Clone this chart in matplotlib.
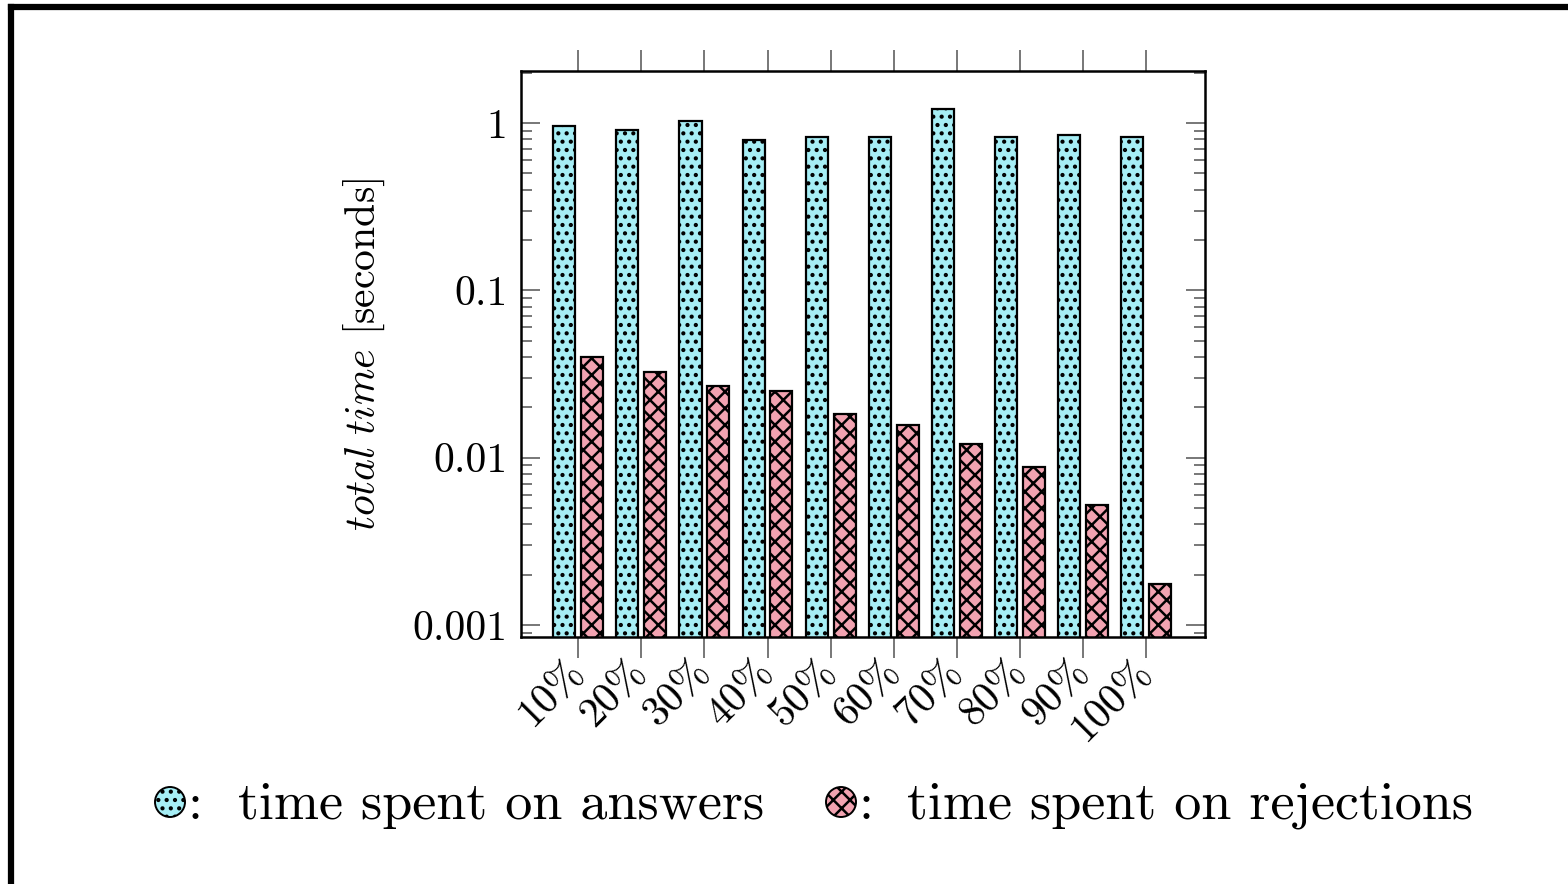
import numpy as np
import matplotlib
matplotlib.use("Agg")
import matplotlib.pyplot as plt
from matplotlib.patches import Ellipse
from matplotlib.lines import Line2D
from matplotlib.ticker import FixedLocator, LogLocator, NullFormatter

plt.rcParams['font.family'] = 'serif'
plt.rcParams['font.serif'] = ['cmr10']
plt.rcParams['mathtext.fontset'] = 'cm'
plt.rcParams['axes.formatter.use_mathtext'] = True
plt.rcParams['hatch.linewidth'] = 1.8

# share of the data, and the time spent on each kind of result
ratios = ['10%', '20%', '30%', '40%', '50%', '60%', '70%', '80%', '90%', '100%']
answers = [0.96, 0.91, 1.03, 0.79, 0.82, 0.82, 1.21, 0.82, 0.85, 0.82]
rejections = [0.040, 0.0325, 0.0268, 0.025, 0.0182, 0.0155, 0.0119, 0.0087, 0.0051, 0.00166]

cyan = '#a6eef5'
pink = '#f2a3b1'

fig = plt.figure(figsize=(15.68, 8.84), dpi=100)
ax = fig.add_axes([0.3323, 0.2794, 0.4362, 0.6403])

x = np.arange(len(ratios))
w = 0.35
ax.bar(x - 0.22, answers, w, bottom=1e-4, color=cyan, edgecolor='black',
       linewidth=1.6, hatch='..')
ax.bar(x + 0.22, rejections, w, bottom=1e-4, color=pink, edgecolor='black',
       linewidth=1.6, hatch='xx')

ax.set_yscale('log')
ax.set_ylim(10 ** -3.072, 10 ** 0.311)
ax.set_xlim(-0.905, 9.93)

ax.yaxis.set_major_locator(FixedLocator([0.001, 0.01, 0.1, 1]))
ax.set_yticklabels(['0.001', '0.01', '0.1', '1'])
ax.yaxis.set_minor_locator(LogLocator(base=10, subs=np.arange(2, 10)))
ax.yaxis.set_minor_formatter(NullFormatter())
ax.tick_params(axis='y', which='both', direction='in', left=True, right=True,
               color='#777777', width=1.4, labelsize=30, pad=10)
ax.tick_params(axis='y', which='major', length=14)
ax.tick_params(axis='y', which='minor', length=8)

ax.set_xticks(x)
ax.set_xticklabels(ratios, rotation=45, ha='right', va='center',
                   rotation_mode='anchor')
ax.tick_params(axis='x', direction='out', top=True, bottom=True, length=15,
               color='#777777', width=1.4, labelsize=30, pad=6)

for s in ax.spines.values():
    s.set_linewidth(1.8)

ax.set_ylabel(r'$\mathit{total\ time}$ [seconds]', fontsize=30, labelpad=18)

# legend row under the axes: hatched disc, colon, then the text
for cx, col, hatch, label, tx in [(170, cyan, '..', 'time spent on answers', 238),
                                  (841, pink, 'xx', 'time spent on rejections', 907)]:
    disc = Ellipse((cx / 1568, 1 - 802 / 884), 30 / 1568, 30 / 884,
                   transform=fig.transFigure, facecolor=col, edgecolor='black',
                   linewidth=1.4, hatch=hatch)
    fig.add_artist(disc)
    fig.text((cx + 17) / 1568, 1 - 806 / 884, ':', fontsize=39,
             ha='left', va='center')
    fig.text(tx / 1568, 1 - 806 / 884, label, fontsize=39,
             ha='left', va='center')

# page frame along the top and left edges
fig.add_artist(Line2D([11 / 1568, 11 / 1568], [0, 1 - 7 / 884], transform=fig.transFigure,
                      color='black', linewidth=4.5, solid_capstyle='projecting'))
fig.add_artist(Line2D([11 / 1568, 1], [1 - 7 / 884, 1 - 7 / 884], transform=fig.transFigure,
                      color='black', linewidth=4.5, solid_capstyle='projecting'))

fig.savefig('out.png', dpi=100)
